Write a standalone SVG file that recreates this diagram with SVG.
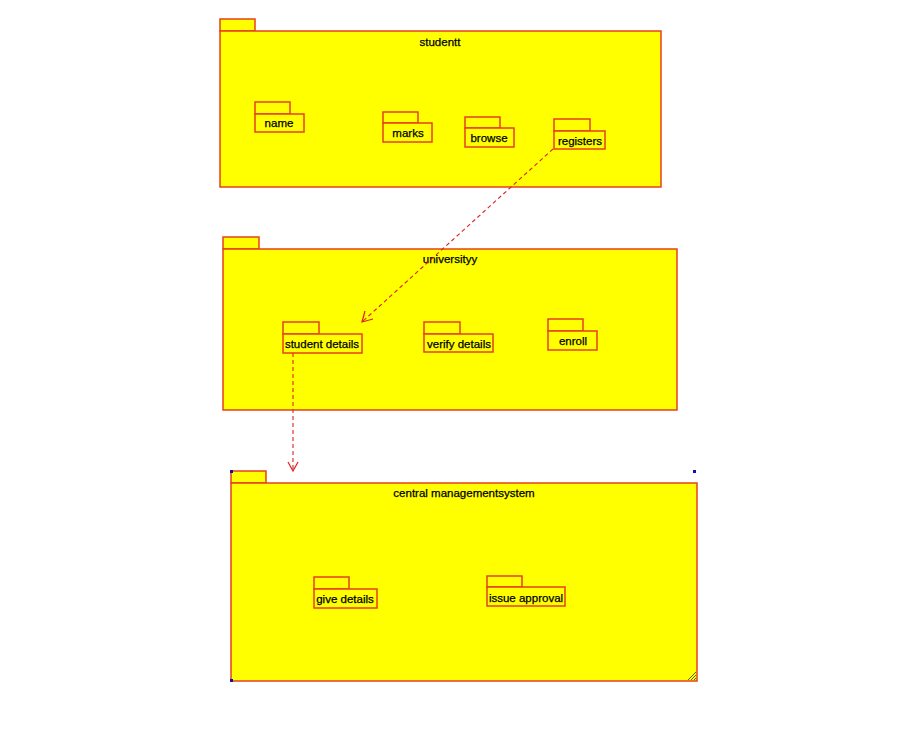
<svg xmlns="http://www.w3.org/2000/svg" width="916" height="741" viewBox="0 0 916 741">
<defs>
<style>
.pk{fill:#ffff00;stroke:#e8401c;stroke-width:1.5}
.t{font-family:"Liberation Sans",Arial,sans-serif;font-size:11.5px;fill:#000;stroke:#000;stroke-width:0.25;text-anchor:middle}
.dep{fill:none;stroke:#e02020;stroke-width:1.1;stroke-dasharray:4,3}
.hd{fill:none;stroke:#e02020;stroke-width:1.2}
.sel{fill:#1010b0}
</style>
</defs>
<rect width="916" height="741" fill="#fff"/>
<g id="studentt">
<rect class="pk" x="220" y="19" width="35" height="12"/>
<rect class="pk" x="220" y="31" width="441" height="156"/>
<text class="t" x="440" y="46">studentt</text>
</g>
<g id="name">
<rect class="pk" x="255" y="102" width="35" height="12"/>
<rect class="pk" x="255" y="114" width="49" height="18"/>
<text class="t" x="279" y="127">name</text>
</g>
<g id="marks">
<rect class="pk" x="383" y="112" width="35" height="11"/>
<rect class="pk" x="383" y="123" width="49" height="19"/>
<text class="t" x="408" y="137">marks</text>
</g>
<g id="browse">
<rect class="pk" x="465" y="117" width="35" height="11"/>
<rect class="pk" x="465" y="128" width="49" height="19"/>
<text class="t" x="489" y="142">browse</text>
</g>
<g id="registers">
<rect class="pk" x="554" y="119" width="36" height="12"/>
<rect class="pk" x="554" y="131" width="51" height="18"/>
<text class="t" x="580" y="145">registers</text>
</g>
<g id="universityy">
<rect class="pk" x="223" y="237" width="36" height="12"/>
<rect class="pk" x="223" y="249" width="454" height="161"/>
<text class="t" x="450" y="263">universityy</text>
</g>
<g id="student-details">
<rect class="pk" x="283" y="322" width="36" height="12"/>
<rect class="pk" x="283" y="334" width="79" height="19"/>
<text class="t" x="322" y="348">student details</text>
</g>
<g id="verify-details">
<rect class="pk" x="424" y="322" width="36" height="12"/>
<rect class="pk" x="424" y="334" width="69" height="18"/>
<text class="t" x="459" y="348">verify details</text>
</g>
<g id="enroll">
<rect class="pk" x="548" y="319" width="35" height="12"/>
<rect class="pk" x="548" y="331" width="49" height="19"/>
<text class="t" x="573" y="345">enroll</text>
</g>
<g id="central-managementsystem">
<rect class="pk" x="231" y="471" width="35" height="12"/>
<rect class="pk" x="231" y="483" width="466" height="198"/>
<text class="t" x="464" y="497">central managementsystem</text>
<rect class="sel" x="230" y="470" width="3" height="3"/>
<rect class="sel" x="693" y="470" width="3" height="3"/>
<rect class="sel" x="230" y="679" width="3" height="3"/>
<path d="M688 680 L696 672 M691 680 L696 675 M694 680 L696 678" stroke="#333" stroke-width="0.8" fill="none"/>
</g>
<g id="give-details">
<rect class="pk" x="314" y="577" width="35" height="12"/>
<rect class="pk" x="314" y="589" width="63" height="19"/>
<text class="t" x="345" y="603">give details</text>
</g>
<g id="issue-approval">
<rect class="pk" x="487" y="576" width="35" height="11"/>
<rect class="pk" x="487" y="587" width="78" height="19"/>
<text class="t" x="526" y="602">issue approval</text>
</g>
<g id="connectors">
<line class="dep" x1="553" y1="149" x2="362" y2="322"/>
<path class="hd" d="M365 311 L362 322 L373 319"/>
<line class="dep" x1="293" y1="353" x2="293" y2="471"/>
<path class="hd" d="M288 462 L293 471 L298 462"/>
</g>
</svg>
